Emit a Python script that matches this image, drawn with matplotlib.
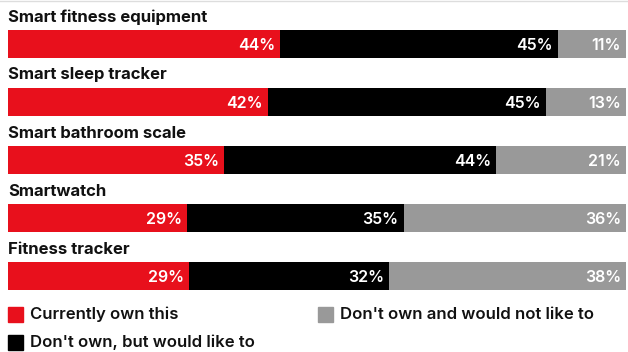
import matplotlib.pyplot as plt
from matplotlib.patches import Rectangle
from matplotlib.lines import Line2D

categories = ["Smart fitness equipment", "Smart sleep tracker", "Smart bathroom scale",
              "Smartwatch", "Fitness tracker"]
own = [44, 42, 35, 29, 29]
would_like = [45, 45, 44, 35, 32]
not_like = [11, 13, 21, 36, 38]
series_names = ["Currently own this", "Don't own, but would like to",
                "Don't own and would not like to"]
colors = ["#e8101c", "#000000", "#999999"]

W, H = 628, 352
fig = plt.figure(figsize=(W / 100, H / 100), dpi=100)
plt.rcParams['font.family'] = ['Inter', 'DejaVu Sans']

# axes: x 0..100 mapped to px 8..626, one category per 58 px
step = 58.0
left, right = 8, 626
ax = fig.add_axes([left / W, 0, (right - left) / W, 1])
ax.set_xlim(0, 100)
ax.set_ylim((H - 44) / step, -44 / step)
ax.axis('off')

bar_h = 28 / step
for i, cat in enumerate(categories):
    vals = [own[i], would_like[i], not_like[i]]
    total = sum(vals)
    start = 0
    for v, c in zip(vals, colors):
        w = v * 100 / total
        ax.barh(i, w, left=start, height=bar_h, color=c, linewidth=0)
        ax.text(start + w - 0.8, i + 0.02, f"{v}%", color="white", fontsize=11.5,
                fontweight="semibold", ha="right", va="center")
        start += w
    ax.text(0, i - 27 / step, cat, fontsize=12, fontweight="bold", ha="left",
            va="center", color="#111111")

# thin line at top
fig.add_artist(Line2D([0, 1], [1 - 1 / H, 1 - 1 / H], color="#dddddd", lw=1))

# legend
legend_pos = [(8, 314.5), (8, 342), (318, 314.5)]
for (px, py), name, c in zip(legend_pos, series_names, colors):
    fig.add_artist(Rectangle((px / W, (H - py - 7.5) / H), 15 / W, 15 / H,
                             color=c, transform=fig.transFigure))
    fig.text((px + 22) / W, (H - py) / H, name, fontsize=12, fontweight="semibold",
             ha="left", va="center", color="#111111")

fig.savefig("out.png", dpi=100)
